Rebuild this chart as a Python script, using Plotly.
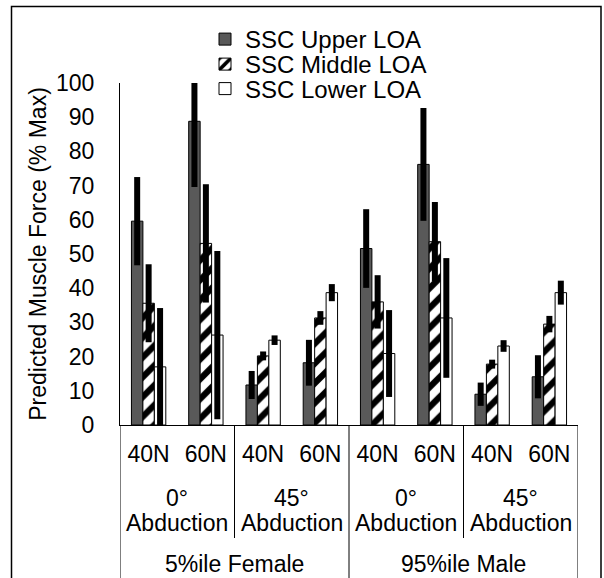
import plotly.graph_objects as go

# ---- data ----
force_labels = ["40N", "60N", "40N", "60N", "40N", "60N", "40N", "60N"]
abduction_labels = ["0°", "45°", "0°", "45°"]
subject_labels = ["5%ile Female", "95%ile Male"]

upper = [59.6, 88.8, 11.7, 18.2, 51.6, 76.2, 9.0, 14.1]
upper_err = [12.9, 19.2, 4.1, 6.7, 11.5, 16.5, 3.4, 6.3]
middle = [35.6, 53.1, 20.2, 31.3, 36.0, 53.6, 17.8, 29.5]
middle_err = [11.4, 17.3, 1.3, 2.0, 7.8, 11.6, 1.3, 2.4]
lower = [17.0, 26.3, 24.8, 38.7, 20.9, 31.3, 23.1, 38.7]
lower_err = [17.2, 24.6, 1.4, 2.5, 12.7, 17.5, 1.7, 3.5]

FONT = "Arial, Liberation Sans, sans-serif"
xpos = list(range(len(force_labels)))

# plot area geometry (pixels) used to convert to paper coords
L, R, T, B = 120, 578, 83, 425
W, H = 604, 578
PW, PH = R - L, B - T


def px_x(px):
    return (px - L) / PW


def px_y(py):
    return (B - py) / PH


fig = go.Figure()

err_style = dict(type="data", thickness=6, width=0, color="black", visible=True)

fig.add_bar(x=xpos, y=upper, name="SSC Upper LOA", legend="legend",
            marker=dict(color="#595959", line=dict(color="black", width=1)),
            error_y=dict(array=upper_err, **err_style))
fig.add_bar(x=xpos, y=middle, name="SSC Middle LOA", legend="legend2",
            marker=dict(color="white", line=dict(color="black", width=1),
                        pattern=dict(shape="/", fgcolor="#000000", bgcolor="#ffffff",
                                     fgopacity=1, fillmode="replace",
                                     size=14, solidity=0.45)),
            error_y=dict(array=middle_err, **err_style))
fig.add_bar(x=xpos, y=lower, name="SSC Lower LOA", legend="legend3",
            marker=dict(color="white", line=dict(color="black", width=1)),
            error_y=dict(array=lower_err, **err_style))

shapes = []
# outer frame
shapes.append(dict(type="rect", xref="paper", yref="paper",
                   x0=px_x(11.5), x1=px_x(601), y0=px_y(6.5), y1=px_y(640),
                   line=dict(color="black", width=1.5), fillcolor="rgba(0,0,0,0)"))
# table vertical lines
for xb, bottom in [(-0.5, 600), (1.5, 538), (3.5, 600), (5.5, 538), (7.5, 600)]:
    shapes.append(dict(type="line", xref="x", yref="paper", x0=xb, x1=xb,
                       y0=0, y1=px_y(bottom), line=dict(color="black", width=1)))
fig.update_layout(shapes=shapes)

ann = []
for i, lab in enumerate(abduction_labels):
    xc = 2 * i + 0.5
    ann.append(dict(x=xc, y=px_y(498), xref="x", yref="paper", text=lab,
                    showarrow=False, yanchor="middle", font=dict(size=23)))
    ann.append(dict(x=xc, y=px_y(523), xref="x", yref="paper", text="Abduction",
                    showarrow=False, yanchor="middle", font=dict(size=23)))
for i, lab in enumerate(subject_labels):
    ann.append(dict(x=4 * i + 1.5, y=px_y(564), xref="x", yref="paper", text=lab,
                    showarrow=False, yanchor="middle", font=dict(size=23)))

leg_common = dict(xanchor="left", yanchor="middle", bgcolor="rgba(0,0,0,0)",
                  font=dict(size=24, family=FONT, color="black"),
                  itemclick=False, itemdoubleclick=False)
lx = px_x(205)

fig.update_layout(
    width=W, height=H,
    margin=dict(l=L, r=W - R, t=T, b=H - B),
    paper_bgcolor="white", plot_bgcolor="white",
    font=dict(family=FONT, size=23, color="black"),
    barmode="group", bargap=0.4, bargroupgap=0,
    annotations=ann,
    showlegend=True,
    legend=dict(x=lx, y=px_y(39.5), **leg_common),
    legend2=dict(x=lx, y=px_y(64.5), **leg_common),
    legend3=dict(x=lx, y=px_y(89), **leg_common),
    xaxis=dict(range=[-0.5, 7.5], tickmode="array", tickvals=xpos, ticktext=force_labels,
               ticks="", showline=True, linecolor="black", linewidth=1,
               showgrid=False, zeroline=False, ticklabelstandoff=8,
               tickfont=dict(size=23)),
    yaxis=dict(range=[0, 100], dtick=10, ticks="", showline=True, linecolor="black",
               linewidth=1, showgrid=False, zeroline=False, ticklabelstandoff=20,
               tickfont=dict(size=23),
               title=dict(text="Predicted Muscle Force (% Max)", font=dict(size=23),
                          standoff=2)),
)

fig.write_html("out.html")
